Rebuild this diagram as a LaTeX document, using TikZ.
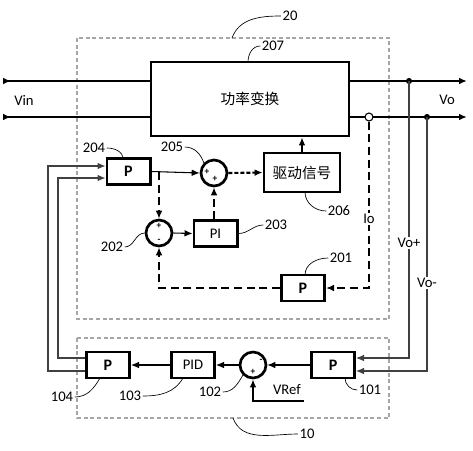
\documentclass[tikz,border=0pt]{standalone}
\usepackage{fontspec}
\setmainfont{Carlito}
\newfontfamily\cjk{Noto Sans CJK SC}
\usetikzlibrary{arrows.meta,calc}
\tikzset{
  >={Latex[length=6pt,width=5pt]},
  frame/.style={draw=gray!70, line width=1.5pt, dash pattern=on 3pt off 2pt},
  blk/.style={draw, line width=2pt, inner sep=0pt, minimum width=32.5pt, minimum height=19.5pt},
  pbox/.style={blk, font=\bfseries\large},
  sumj/.style={draw, circle, line width=2pt, inner sep=0pt, minimum size=19.5pt},
  pwr/.style={line width=1.5pt},
  sig/.style={line width=0.8pt, ->},
  fb/.style={line width=0.8pt, draw=black!75, ->},
  dsh/.style={line width=1.1pt, dash pattern=on 6pt off 3.5pt, ->},
  ldr/.style={line width=0.5pt},
  num/.style={inner sep=1pt, font=\fontsize{11}{12}\selectfont},
  sgn/.style={inner sep=0pt, font=\fontsize{7}{7}\selectfont\bfseries},
  onl/.style={fill=white, inner sep=1pt, font=\fontsize{11}{12}\selectfont}
}
\begin{document}
\begin{tikzpicture}[x=0.75pt,y=-0.75pt]
\useasboundingbox (0,0) rectangle (473,450);
% the two dashed units
\draw[frame] (77,38) rectangle (389,319);
\draw[frame] (77,338) rectangle (389,418);
% unit 20
\node[blk, minimum width=148.5pt, minimum height=55.5pt, font=\cjk\fontsize{11}{12}\selectfont] (pc) at (250,99) {功率变换};
\node[blk, minimum width=57pt, minimum height=29.25pt, font=\cjk\fontsize{11}{12}\selectfont] (drv) at (302,172.5) {驱动信号};
\node[pbox] (p204) at (128.5,171.5) {P};
\node[sumj] (s205) at (214,173) {};
\node[sumj] (s202) at (159,233) {};
\node[blk, font=\fontsize{11}{12}\selectfont] (pi) at (215.5,233.5) {PI};
\node[pbox] (p201) at (303,288) {P};
% unit 10
\node[pbox] (p101) at (333,365) {P};
\node[sumj] (s102) at (253,365) {};
\node[blk, font=\fontsize{11}{12}\selectfont] (pid) at (193,365) {PID};
\node[pbox] (p104) at (108,365) {P};
% signs
\node[sgn] at (207,172) {+};
\node[sgn] at (215,179) {+};
\node[sgn] at (159,226) {+};
\node[sgn] at (159,241) {-};
\node[sgn] at (261,361) {-};
\node[sgn] at (253,372) {+};
% power lines
\coordinate (vinA) at (3,81);
\coordinate (vinB) at (3,117);
\coordinate (voA) at (467,81);
\coordinate (voB) at (467,117);
\coordinate (tA) at (409,81);
\coordinate (tB) at (427,117);
\draw[pwr, {Latex[length=6pt,width=5pt,reversed]}-] (vinA) -- (vinA -| pc.west);
\draw[pwr, {Latex[length=6pt,width=5pt,reversed]}-] (vinB) -- (vinB -| pc.west);
\draw[pwr, ->] (voA -| pc.east) -- (voA);
\draw[pwr, ->] (voB -| pc.east) -- (voB);
\fill (tA) circle (2.3pt);
\fill (tB) circle (2.3pt);
\node[draw, circle, line width=0.8pt, fill=white, inner sep=0pt, minimum size=6pt] (io) at (369,117) {};
\node[onl] at (24,100) {Vin};
\node[onl] at (447,100) {Vo};
% forward path
\draw[sig] (p204.east) -- (s205.west);
\draw[line width=1.6pt, dash pattern=on 3pt off 1.5pt, ->] (s205.east) -- (drv.west);
\draw[pwr, ->] (drv.north) -- (drv.north |- pc.south);
\draw[dsh] (s205.west -| s202.north) ++(0,-1) -- (s202.north);
\draw[sig] (s202.east) -- (pi.west);
\draw[dsh] (pi.north -| s205.south) -- (s205.south);
% current feedback
\draw[dsh] (io.south) |- (p201.east);
\draw[dsh] (p201.west) -| (s202.south);
\node[onl] at (369,219) {Io};
% voltage feedback
\draw[fb] (tA) |- ($(p101.east)+(0,-7)$);
\draw[fb] (tB) |- ($(p101.east)+(0,6)$);
\node[onl] at (409,243) {Vo+};
\node[onl] at (427,283) {Vo-};
\draw[sig] (p101.west) -- (s102.east);
\coordinate (vref) at (304,401);
\draw[pwr, ->] (vref) -| (s102.south);
\node[num] at (287,390) {VRef};
\draw[sig] (s102.west) -- (pid.east);
\draw[sig] (pid.west) -- (p104.east);
\draw[fb] ($(p104.west)+(0,-7)$) -| (58,178) -- ($(p204.west)+(0,6.5)$);
\draw[fb] ($(p104.west)+(0,6)$) -| (48,166) -- ($(p204.west)+(0,-5.5)$);
% reference numbers
\node[num] (l20) at (290,16) {20};
\node[num] (l10) at (307,434) {10};
\node[num] (l207) at (273,46) {207};
\node[num] (l204) at (94,148) {204};
\node[num] (l205) at (172,147) {205};
\node[num] (l206) at (339,211) {206};
\node[num] (l203) at (276,225) {203};
\node[num] (l202) at (112,247) {202};
\node[num] (l201) at (341,258) {201};
\node[num] (l101) at (370,390) {101};
\node[num] (l102) at (210,392) {102};
\node[num] (l103) at (130,396) {103};
\node[num] (l104) at (62,397) {104};
\draw[ldr] (232,38) to[out=70,in=180] (l20.west);
\draw[ldr] (233,418) to[out=-70,in=180] (l10.west);
\draw[ldr] (248,62) to[out=90,in=180] (l207.west);
\draw[ldr] (123,159) to[out=90,in=0] (l204.east);
\draw[ldr] (s205.north west) to[out=110,in=0] (l205.east);
\draw[ldr] (305,192) to[out=-90,in=180] (l206.west);
\draw[ldr] (pi.east) to[out=0,in=180] (l203.west);
\draw[ldr] (s202.west) to[out=180,in=0] (l202.east);
\draw[ldr] (305,275) to[out=90,in=180] (l201.west);
\draw[ldr] (345,378) to[out=-90,in=180] (l101.west);
\draw[ldr] (s102.south west) to[out=-120,in=0] (l102.east);
\draw[ldr] (183,378) to[out=-120,in=0] (l103.east);
\draw[ldr] (100,378) to[out=-120,in=0] (l104.east);
\end{tikzpicture}
\end{document}
